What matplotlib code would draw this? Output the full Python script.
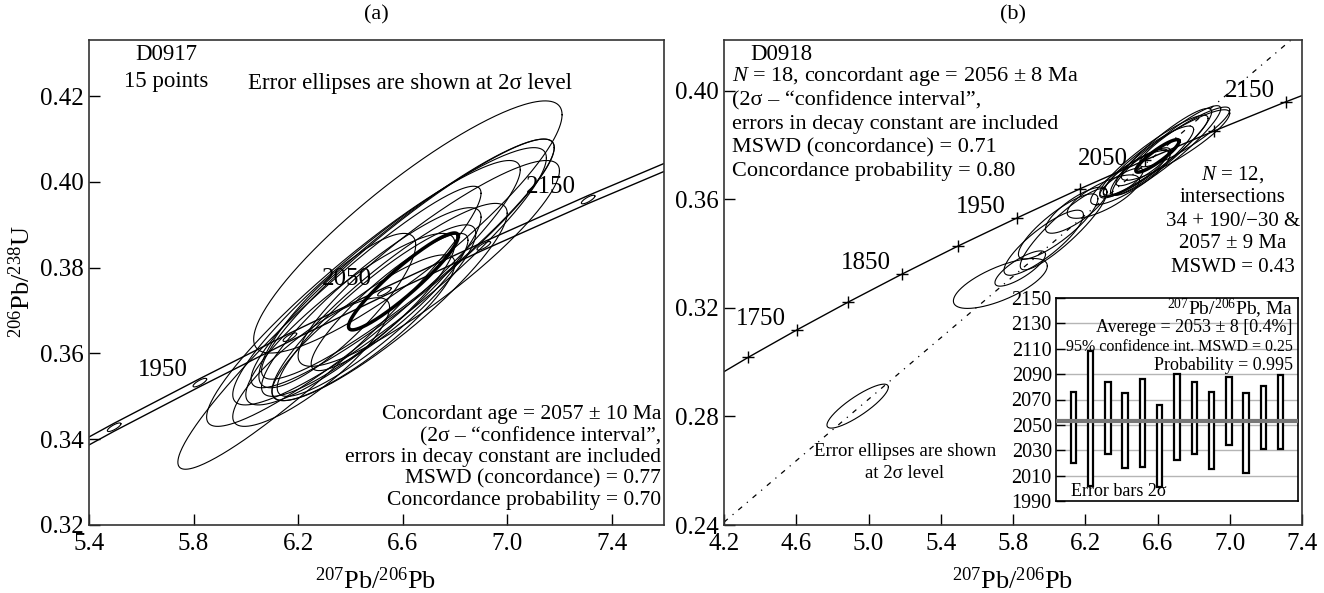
import numpy as np
import matplotlib
matplotlib.use('Agg')
import matplotlib.pyplot as plt

plt.rcParams['font.family'] = ['Liberation Serif', 'DejaVu Serif']
plt.rcParams['mathtext.fontset'] = 'custom'
plt.rcParams['mathtext.rm'] = 'Liberation Serif'
plt.rcParams['mathtext.it'] = 'Liberation Serif:italic'

# concordia ages (Ma) and ratios
conc_age = [1650, 1700, 1750, 1800, 1850, 1900, 1950, 2000, 2050, 2100, 2150, 2200, 2250]
conc_x = [4.0784, 4.3348, 4.6040, 4.8869, 5.1841, 5.4962, 5.8241, 6.1685, 6.5304, 6.9104, 7.3097, 7.7292, 8.1698]
conc_y = [0.2917, 0.3018, 0.3119, 0.3221, 0.3324, 0.3428, 0.3532, 0.3638, 0.3744, 0.3851, 0.3959, 0.4067, 0.4177]
labels_a = [1950, 2050, 2150]
labels_b = [1750, 1850, 1950, 2050, 2150]

# panel (a) ellipses: centre x, centre y, half-width x, half-height y, rho
a_x = [6.62, 6.32, 6.45, 6.55, 6.60, 6.62, 6.70, 6.55, 6.40, 6.48, 6.35, 6.45, 6.25, 6.50, 6.55]
a_y = [0.3895, 0.366, 0.374, 0.378, 0.381, 0.382, 0.381, 0.372, 0.368, 0.372, 0.370, 0.366, 0.358, 0.370, 0.372]
a_hx = [0.59, 0.58, 0.60, 0.60, 0.58, 0.56, 0.50, 0.45, 0.40, 0.42, 0.30, 0.35, 0.30, 0.38, 0.30]
a_hy = [0.0294, 0.033, 0.031, 0.030, 0.029, 0.028, 0.024, 0.023, 0.020, 0.022, 0.018, 0.017, 0.015, 0.020, 0.016]
a_rho = [0.89, 0.95, 0.93, 0.92, 0.93, 0.93, 0.90, 0.90, 0.88, 0.90, 0.85, 0.88, 0.85, 0.90, 0.90]
a_mean = (6.603, 0.3768, 0.21, 0.0113, 0.93)

# panel (b) ellipses
b_x = [4.94, 5.73, 5.84, 5.97, 6.05, 6.15, 6.30, 6.45, 6.55, 6.58, 6.62, 6.65, 6.70, 6.52, 6.40, 6.75, 6.48, 6.08]
b_y = [0.2838, 0.329, 0.3345, 0.344, 0.350, 0.356, 0.361, 0.368, 0.374, 0.376, 0.3775, 0.378, 0.380, 0.372, 0.366, 0.383, 0.370, 0.349]
b_hx = [0.17, 0.26, 0.14, 0.22, 0.22, 0.17, 0.20, 0.22, 0.25, 0.30, 0.28, 0.30, 0.30, 0.15, 0.12, 0.25, 0.18, 0.24]
b_hy = [0.0081, 0.0092, 0.0065, 0.012, 0.012, 0.0085, 0.008, 0.010, 0.013, 0.015, 0.016, 0.0165, 0.013, 0.007, 0.0055, 0.011, 0.0085, 0.015]
b_rho = [0.86, 0.70, 0.80, 0.85, 0.85, 0.80, 0.75, 0.85, 0.90, 0.92, 0.92, 0.93, 0.90, 0.85, 0.80, 0.90, 0.85, 0.90]
b_mean = (6.60, 0.3760, 0.12, 0.0060, 0.90)

# discordia intercepts (34 Ma and 2057 Ma)
disc_x = [0.034, 6.583]
disc_y = [0.0053, 0.3759]

# inset: 207Pb/206Pb ages, error bar limits
ins_lo = [2020, 2002, 2027, 2016, 2017, 2001, 2022, 2027, 2015, 2034, 2012, 2031, 2031]
ins_hi = [2076, 2108, 2084, 2075, 2086, 2066, 2090, 2084, 2076, 2088, 2075, 2081, 2089]
ins_mean = 2053

W, H = 1324, 593


def fx(x):
    return x / W


def fy(y):
    return 1 - y / H


def ellipse(ax, cx, cy, hx, hy, r, **kw):
    t = np.linspace(0, 2 * np.pi, 300)
    ax.plot(cx + hx * np.cos(t), cy + hy * (r * np.cos(t) + np.sqrt(1 - r * r) * np.sin(t)), **kw)


fig = plt.figure(figsize=(W / 100, H / 100), dpi=100)
axa = fig.add_axes([fx(89), 68 / H, 575 / W, 485 / H])
axb = fig.add_axes([fx(724), 68 / H, 578 / W, 485 / H])
ins = fig.add_axes([fx(1056), 92 / H, 242 / W, 203 / H])

for ax in (axa, axb):
    ax.tick_params(direction='in', length=8, width=1, labelsize=18, pad=6)
    ax.tick_params(axis='y', pad=4)
    for s in ax.spines.values():
        s.set_linewidth(1.2)
        s.set_color('#333333')

# ---- panel (a)
axa.set_xlim(5.4, 7.6)
axa.set_ylim(0.32, 0.4331)
xt = np.arange(5.4, 7.41, 0.4)
axa.set_xticks(xt)
axa.set_xticklabels(['%.1f' % v for v in xt])
yt = np.arange(0.32, 0.421, 0.02)
axa.set_yticks(yt)
axa.set_yticklabels(['%.2f' % v for v in yt])

band = 0.00093
cy = np.array(conc_y)
axa.plot(conc_x, cy + band, color='black', lw=1)
axa.plot(conc_x, cy - band, color='black', lw=1)
for age, x, y in zip(conc_age, conc_x, conc_y):
    ellipse(axa, x, y, 0.026, 0.0010, 0.8, color='black', lw=0.8)
    if age in labels_a:
        axa.annotate(str(age), (x, y), xytext=(-27, 9), textcoords='offset points',
                     ha='center', va='center', fontsize=18)

for i in range(len(a_x)):
    ellipse(axa, a_x[i], a_y[i], a_hx[i], a_hy[i], a_rho[i], color='black', lw=0.8)
ellipse(axa, *a_mean, color='black', lw=2.5)

# ---- panel (b)
axb.set_xlim(4.2, 7.4)
axb.set_ylim(0.24, 0.4187)
xt = np.arange(4.2, 7.41, 0.4)
axb.set_xticks(xt)
axb.set_xticklabels(['%.1f' % v for v in xt])
yt = np.arange(0.24, 0.401, 0.04)
axb.set_yticks(yt)
axb.set_yticklabels(['%.2f' % v for v in yt])

axb.plot(conc_x, conc_y, color='black', lw=1)
axb.plot(conc_x, conc_y, ls='none', marker='+', ms=9, mew=1, color='black')
for age, x, y in zip(conc_age, conc_x, conc_y):
    if age in labels_b:
        off = (-30, 1) if age == 2050 else (-26, 8)
        axb.annotate(str(age), (x, y), xytext=off, textcoords='offset points',
                     ha='center', va='center', fontsize=18)

axb.axline((disc_x[0], disc_y[0]), (disc_x[1], disc_y[1]), color='black', lw=0.9,
           ls=(0, (4, 5, 1, 5)))

for i in range(len(b_x)):
    ellipse(axb, b_x[i], b_y[i], b_hx[i], b_hy[i], b_rho[i], color='black', lw=0.8)
ellipse(axb, *b_mean, color='black', lw=2.5)

# ---- inset
ins.set_xlim(0, len(ins_lo) + 1)
ins.set_ylim(1990, 2150)
ins.set_xticks([])
ins.set_yticks(np.arange(1990, 2151, 20))
ins.tick_params(direction='in', length=6.5, width=1, labelsize=14.5, pad=3)
for s in ins.spines.values():
    s.set_linewidth(1.2)
for v in np.arange(2010, 2131, 20):
    ins.axhline(v, color='#b5b5b5', lw=1, zorder=1)
idx = np.arange(1, len(ins_lo) + 1)
ins.bar(idx, np.array(ins_hi) - np.array(ins_lo), bottom=ins_lo, width=0.32,
        facecolor='white', edgecolor='black', linewidth=1.6, zorder=3)
ins.axhline(ins_mean, color='#777777', lw=3, zorder=4)

# ---- texts
fig.text(fx(376), fy(15), '(a)', ha='center', va='center', fontsize=16)
fig.text(fx(1013), fy(15), '(b)', ha='center', va='center', fontsize=16)
fig.text(fx(376), fy(581), r'$^{207}$Pb/$^{206}$Pb', ha='center', va='center', fontsize=19)
fig.text(fx(1013), fy(581), r'$^{207}$Pb/$^{206}$Pb', ha='center', va='center', fontsize=19)
fig.text(fx(22), fy(282), r'$^{206}$Pb/$^{238}$U', ha='center', va='center', fontsize=19,
         rotation=90)

fig.text(fx(166), fy(55), 'D0917', ha='center', va='center', fontsize=16.5)
fig.text(fx(166), fy(82), '15 points', ha='center', va='center', fontsize=16.5)
fig.text(fx(410), fy(83), 'Error ellipses are shown at 2σ level', ha='center', va='center',
         fontsize=16.5)

lines_a = ['Concordant age = 2057 ± 10 Ma', '(2σ – “confidence interval”,',
           'errors in decay constant are included', 'MSWD (concordance) = 0.77',
           'Concordance probability = 0.70']
for k, s in enumerate(lines_a):
    fig.text(fx(661), fy(415 + 21.4 * k), s, ha='right', va='center', fontsize=15.5)

fig.text(fx(781), fy(55), 'D0918', ha='center', va='center', fontsize=16.5)
lines_b = [r'$N$ = 18, concordant age = 2056 ± 8 Ma', '(2σ – “confidence interval”,',
           'errors in decay constant are included', 'MSWD (concordance) = 0.71',
           'Concordance probability = 0.80']
for k, s in enumerate(lines_b):
    fig.text(fx(732), fy(77 + 23.6 * k), s, ha='left', va='center', fontsize=16)

lines_c = [r'$N$ = 12,', 'intersections', '34 + 190/−30 &', '2057 ± 9 Ma', 'MSWD = 0.43']
for k, s in enumerate(lines_c):
    fig.text(fx(1233), fy(175 + 23 * k), s, ha='center', va='center', fontsize=15)

fig.text(fx(905), fy(452), 'Error ellipses are shown', ha='center', va='center', fontsize=13.5)
fig.text(fx(905), fy(473), 'at 2σ level', ha='center', va='center', fontsize=13.5)

fig.text(fx(1293), fy(309), r'$^{207}$Pb/$^{206}$Pb, Ma', ha='right', va='center', fontsize=14)
fig.text(fx(1293), fy(327), 'Averege = 2053 ± 8 [0.4%]', ha='right', va='center', fontsize=13)
fig.text(fx(1293), fy(347), '95% confidence int. MSWD = 0.25', ha='right', va='center',
         fontsize=11.5)
fig.text(fx(1293), fy(365), 'Probability = 0.995', ha='right', va='center', fontsize=13)
fig.text(fx(1071), fy(492), 'Error bars 2σ', ha='left', va='center', fontsize=13)

fig.savefig('out.png', dpi=100)
